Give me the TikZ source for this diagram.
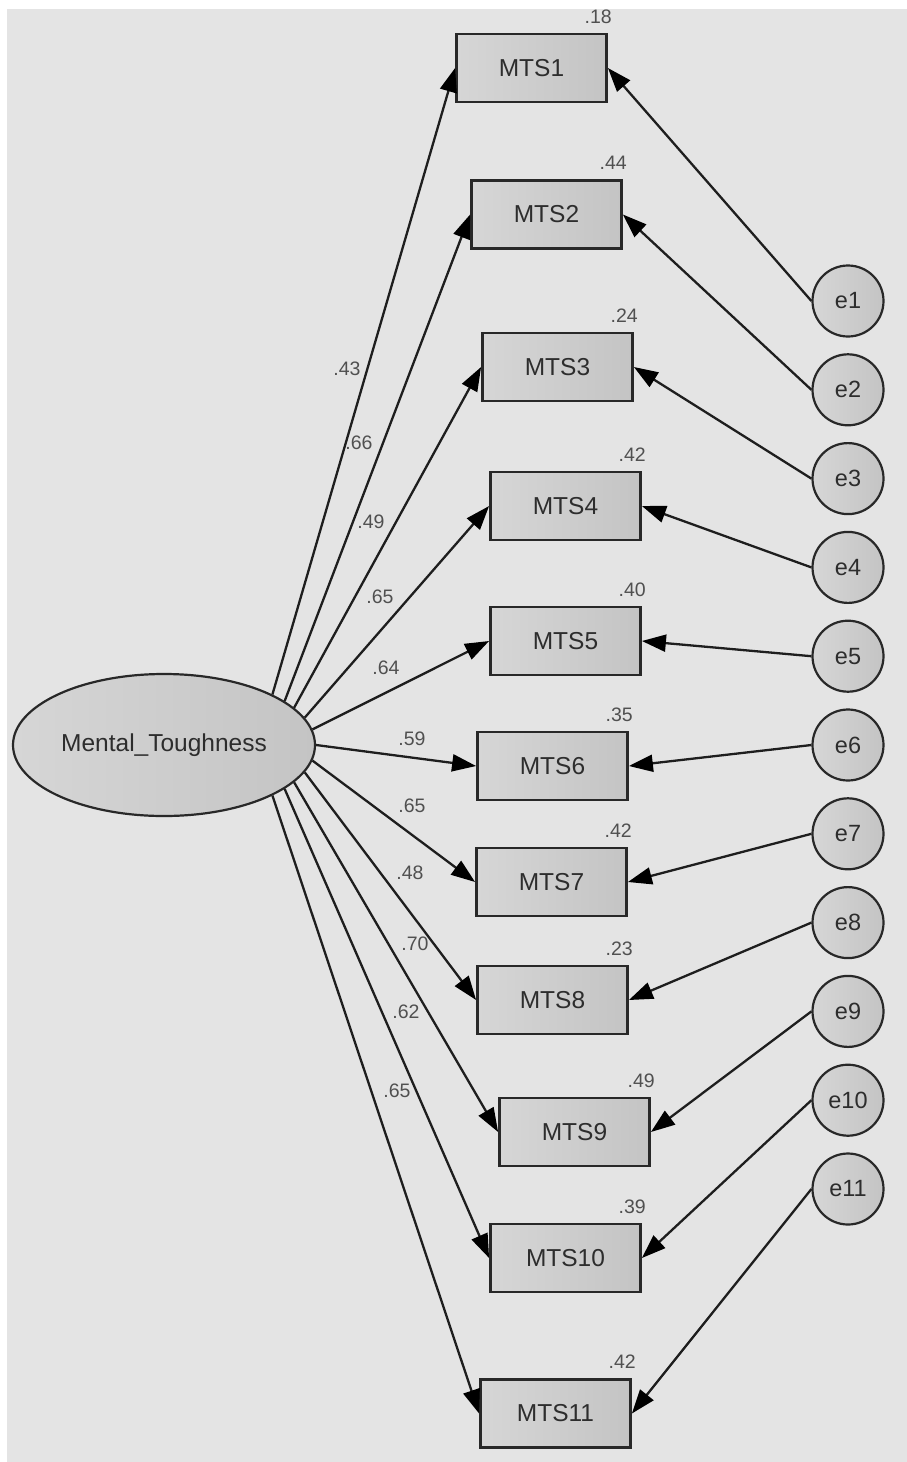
\documentclass[tikz,border=0pt]{standalone}
\usepackage{fontspec}
\setmainfont{Liberation Sans}
\usetikzlibrary{shapes.geometric,arrows.meta}
\definecolor{bg}{RGB}{228,228,228}
\definecolor{fillL}{RGB}{214,214,214}
\definecolor{fillR}{RGB}{196,196,196}
\definecolor{edge}{RGB}{40,40,40}
\definecolor{lnc}{RGB}{30,30,30}
\definecolor{txt}{RGB}{45,45,45}
\definecolor{lbl}{RGB}{80,80,80}
\tikzset{
  obs/.style={draw=edge, line width=2.8pt, left color=fillL, right color=fillR,
    minimum width=150pt, minimum height=68pt, inner sep=0pt, text=txt,
    font=\fontsize{24.5}{24.5}\selectfont},
  err/.style={circle, draw=edge, line width=2.2pt, left color=fillL, right color=fillR,
    minimum size=71pt, inner sep=0pt, text=txt, font=\fontsize{23.5}{23.5}\selectfont},
  lat/.style={ellipse, draw=edge, line width=2.2pt, left color=fillL, right color=fillR,
    minimum width=302pt, minimum height=142pt, inner sep=0pt, text=txt,
    font=\fontsize{24.5}{24.5}\selectfont},
  path/.style={draw=lnc, line width=2.3pt, -{Triangle[length=24pt,width=17pt,color=black,fill=black]}},
  rsq/.style={anchor=south east, inner sep=0pt, text=lbl, font=\fontsize{19.5}{19.5}\selectfont},
  ld/.style={inner sep=0pt, text=lbl, font=\fontsize{19.5}{19.5}\selectfont}
}
\begin{document}
\begin{tikzpicture}[x=1pt,y=-1pt]
\useasboundingbox (0,0) rectangle (907,1462);
\fill[bg] (7,9) rectangle (907,1462);

\node[lat] (mt) at (164,745) {Mental\_Toughness};

\node[obs] (m1) at (531.5,68) {MTS1};
\node[obs] (m2) at (546.5,214.5) {MTS2};
\node[obs] (m3) at (557.5,367) {MTS3};
\node[obs] (m4) at (565.5,506) {MTS4};
\node[obs] (m5) at (565.5,641) {MTS5};
\node[obs] (m6) at (552.5,766) {MTS6};
\node[obs] (m7) at (551.5,882) {MTS7};
\node[obs] (m8) at (552.5,1000) {MTS8};
\node[obs] (m9) at (574.5,1132) {MTS9};
\node[obs] (m10) at (565.5,1258) {MTS10};
\node[obs] (m11) at (555.5,1413.5) {MTS11};

\foreach \i in {1,...,11} {
  \node[err] (e\i) at (848,{301+(\i-1)*88.8}) {e\i};
}

% R-squared labels
\node[rsq] (r1) at ([xshift=4pt,yshift=9pt]m1.north east) {.18};
\node[rsq] (r2) at ([xshift=4pt,yshift=9pt]m2.north east) {.44};
\node[rsq] (r3) at ([xshift=4pt,yshift=9pt]m3.north east) {.24};
\node[rsq] (r4) at ([xshift=4pt,yshift=9pt]m4.north east) {.42};
\node[rsq] (r5) at ([xshift=4pt,yshift=9pt]m5.north east) {.40};
\node[rsq] (r6) at ([xshift=4pt,yshift=9pt]m6.north east) {.35};
\node[rsq] (r7) at ([xshift=4pt,yshift=9pt]m7.north east) {.42};
\node[rsq] (r8) at ([xshift=4pt,yshift=9pt]m8.north east) {.23};
\node[rsq] (r9) at ([xshift=4pt,yshift=9pt]m9.north east) {.49};
\node[rsq] (r10) at ([xshift=4pt,yshift=9pt]m10.north east) {.39};
\node[rsq] (r11) at ([xshift=4pt,yshift=9pt]m11.north east) {.42};

% loadings
\draw[path] (mt.25) -- (m1.west);
\draw[path] (mt.20.5) -- (m2.west);
\draw[path] (mt.16.3) -- (m3.west);
\draw[path] (mt.11.8) -- (m4.west);
\draw[path] (mt.6.2) -- (m5.west);
\draw[path] (mt.0) -- (m6.west);
\draw[path] (mt.-6.2) -- (m7.west);
\draw[path] (mt.-11.8) -- (m8.west);
\draw[path] (mt.-16.3) -- (m9.west);
\draw[path] (mt.-20.5) -- (m10.west);
\draw[path] (mt.-25) -- (m11.west);

% errors
\foreach \i in {1,...,11} {
  \draw[path] (e\i.west) -- (m\i.east);
}

% loading labels
\node[ld] (l1) at (347,369) {.43};
\node[ld] (l2) at (359,443) {.66};
\node[ld] (l3) at (371,522) {.49};
\node[ld] (l4) at (380,597) {.65};
\node[ld] (l5) at (386,668) {.64};
\node[ld] (l6) at (412,739) {.59};
\node[ld] (l7) at (412,806) {.65};
\node[ld] (l8) at (410,873) {.48};
\node[ld] (l9) at (415,944) {.70};
\node[ld] (l10) at (406,1012) {.62};
\node[ld] (l11) at (397,1091) {.65};
\end{tikzpicture}
\end{document}
